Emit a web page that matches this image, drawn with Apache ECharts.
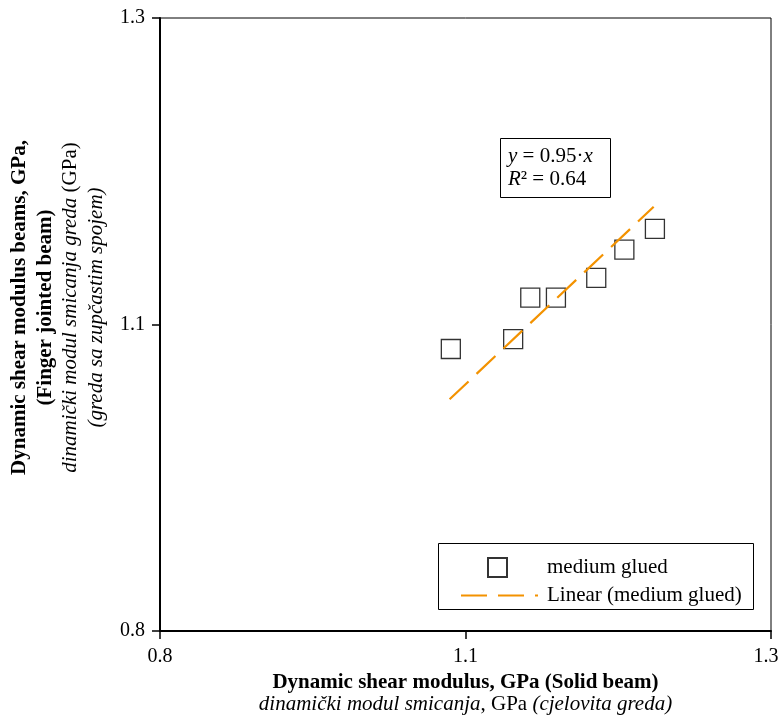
<!DOCTYPE html>
<html>
<head>
<meta charset="utf-8">
<script src="https://cdn.jsdelivr.net/npm/echarts@6/dist/echarts.min.js"></script>
<style>html,body{margin:0;padding:0;background:#fff}#c{width:778px;height:717px}</style>
</head>
<body>
<div id="c"></div>
<script>
// Data
var pointsX = [1.038, 1.089, 1.103, 1.124, 1.157, 1.180, 1.205];
var pointsY = [1.030, 1.038, 1.072, 1.072, 1.088, 1.111, 1.128];
var trendX = [1.037, 1.204];
var trendY = [0.989, 1.146];
var tickValues = [0.8, 1.05, 1.3];
var tickLabels = ['0.8', '1.1', '1.3'];
var seriesName = 'medium glued';
var trendName = 'Linear (medium glued)';

var FONT = '"Liberation Serif","Times New Roman",serif';
var FS = 21;
function pairs(xs, ys){ return xs.map(function(x,i){ return [x, ys[i]]; }); }
function idx(v){ for (var i=0;i<tickValues.length;i++){ if (Math.abs(v-tickValues[i])<1e-9) return i; } return -1; }
function fmtY(v){ var i=idx(v); return i<0?'':tickLabels[i]; }
function fmtX(v){ var i=idx(v); if(i<0) return ''; return i===tickValues.length-1 ? '{r|'+tickLabels[i]+'}' : tickLabels[i]; }

var chart = echarts.init(document.getElementById('c'), null, {renderer:'canvas'});
var axisCommon = {
  type:'value', min:0.8, max:1.3,
  axisLine:{show:true, lineStyle:{color:'#000', width:2}},
  axisTick:{show:true, inside:false, length:8, lineStyle:{color:'#000', width:1.5}, customValues:tickValues},
  axisLabel:{customValues:tickValues, color:'#000', fontFamily:FONT, fontSize:20},
  splitLine:{show:false}
};
function titleStyle(lh){
  return {fontFamily:FONT, fontSize:FS, color:'#000', lineHeight:lh,
    rich:{
      b:{fontFamily:FONT, fontSize:FS, fontWeight:'bold', color:'#000', lineHeight:lh},
      i:{fontFamily:FONT, fontSize:FS, fontStyle:'italic', color:'#000', lineHeight:lh},
      n:{fontFamily:FONT, fontSize:FS, color:'#000', lineHeight:lh}
    }};
}
var option = {
  animation:false,
  backgroundColor:'#fff',
  grid:{left:160, right:7, top:18, bottom:86, outerBoundsMode:'none', containLabel:false,
        show:true, borderColor:'#000', borderWidth:1, backgroundColor:'transparent'},
  title:{
    left:500, top:138, padding:[7,18,7,8],
    borderColor:'#000', borderWidth:1,
    text:'{i|y} = 0.95·{i|x}\n{i|R}² = 0.64',
    textStyle:{fontFamily:FONT, fontSize:FS, fontWeight:'normal', color:'#000', lineHeight:23,
      rich:{i:{fontFamily:FONT, fontSize:FS, fontStyle:'italic', color:'#000', lineHeight:23}}}
  },
  xAxis: Object.assign({}, axisCommon, {
    axisLabel: Object.assign({}, axisCommon.axisLabel, {margin:16, formatter:fmtX,
      rich:{r:{fontFamily:FONT, fontSize:20, color:'#000', padding:[0,10,0,0]}}}),
    name:'{b|Dynamic shear modulus, GPa (Solid beam)}\n{i|dinamički modul smicanja}{n|, GPa }{i|(cjelovita greda)}',
    nameLocation:'middle', nameGap:39,
    nameTextStyle: titleStyle(22)
  }),
  yAxis: Object.assign({}, axisCommon, {
    axisLabel: Object.assign({}, axisCommon.axisLabel, {margin:15, formatter:fmtY}),
    name:'{b|Dynamic shear modulus beams, GPa,}\n{b|(Finger jointed beam)}\n{i|dinamički modul smicanja greda} {n|(GPa)}\n{i|(greda sa zupčastim spojem)}',
    nameLocation:'middle', nameGap:46, nameRotate:90,
    nameTextStyle: Object.assign(titleStyle(25.5), {padding:[0,0,0,34]})
  }),
  legend:[
    {data:[seriesName], left:487, top:557, itemWidth:19, itemHeight:19, padding:0, z:10,
     textStyle:{fontFamily:FONT, fontSize:FS, color:'#000', padding:[0,0,0,35]}},
    {data:[trendName], left:460, top:585, itemWidth:77, itemHeight:14, padding:0, z:10,
     itemStyle:{color:'rgba(0,0,0,0)', borderWidth:0, opacity:0},
     textStyle:{fontFamily:FONT, fontSize:FS, color:'#000', padding:[0,0,0,4]}}
  ],
  graphic:[
    {type:'rect', z:5, shape:{x:438.5, y:543.5, width:315, height:66},
     style:{fill:'#fff', stroke:'#000', lineWidth:1}}
  ],
  series:[
    {name:seriesName, type:'scatter', symbol:'rect', symbolSize:19, z:3,
     itemStyle:{color:'rgba(255,255,255,0)', borderColor:'#000', borderWidth:1.3},
     data:pairs(pointsX, pointsY)},
    {name:trendName, type:'line', symbol:'none', z:4,
     lineStyle:{color:'#f39200', width:2.2, type:[26,11]},
     itemStyle:{color:'#f39200'},
     data:pairs(trendX, trendY)}
  ]
};
chart.setOption(option);
</script>
</body>
</html>
